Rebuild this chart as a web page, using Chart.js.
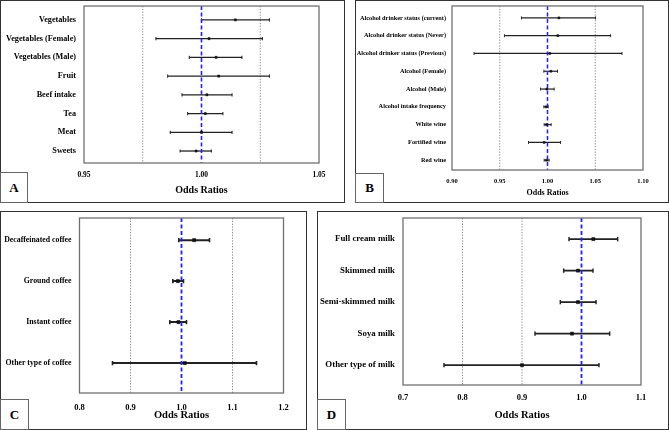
<!DOCTYPE html>
<html>
<head>
<meta charset="utf-8">
<script src="https://cdn.jsdelivr.net/npm/chart.js@4"></script>
<style>
  html, body { margin: 0; padding: 0; background: #fff; }
  body { width: 669px; height: 430px; position: relative; overflow: hidden; }
  .panel { position: absolute; box-sizing: border-box; border: 1px solid #333; background: #fff; }
  .panel canvas { position: absolute; left: 0; top: 0; }
  .tag {
    position: absolute; left: -1px; bottom: -1px; box-sizing: border-box;
    border: 1px solid #666; background: #fff;
    font: bold 13px 'Liberation Serif', 'Times New Roman', serif; color: #000;
    display: flex; align-items: center; justify-content: center;
  }
</style>
</head>
<body>
<div class="panel" style="left:0;top:0;width:345px;height:203px;">
  <canvas id="chartA" width="343" height="201"></canvas>
  <div class="tag" style="width:28px;height:31px;">A</div>
</div>
<div class="panel" style="left:355px;top:0;width:314px;height:203px;">
  <canvas id="chartB" width="312" height="201"></canvas>
  <div class="tag" style="width:29px;height:30px;">B</div>
</div>
<div class="panel" style="left:0;top:211px;width:307px;height:219px;">
  <canvas id="chartC" width="305" height="217"></canvas>
  <div class="tag" style="width:29px;height:31px;">C</div>
</div>
<div class="panel" style="left:317px;top:211px;width:352px;height:219px;">
  <canvas id="chartD" width="350" height="217"></canvas>
  <div class="tag" style="width:29px;height:31px;">D</div>
</div>

<script>
(function () {
    'use strict';

    // A: diet
    var labelsA = ['Vegetables', 'Vegetables (Female)', 'Vegetables (Male)', 'Fruit', 'Beef intake', 'Tea', 'Meat', 'Sweets'];
    var orA = [1.0144, 1.0032, 1.0062, 1.0073, 1.0023, 1.0016, 1.0000, 0.9977];
    var lowA = [1.0000, 0.9806, 0.9948, 0.9856, 0.9917, 0.9941, 0.9867, 0.9909];
    var highA = [1.0289, 1.0259, 1.0172, 1.0289, 1.0130, 1.0091, 1.0130, 1.0042];
    var ticksA = [0.95, 1.00, 1.05];
    var guidesA = [0.975, 1.025];

    // B: alcohol
    var labelsB = ['Alcohol drinker status (current)', 'Alcohol drinker status (Never)', 'Alcohol drinker status (Previous)',
        'Alcohol (Female)', 'Alcohol (Male)', 'Alcohol intake frequency', 'White wine', 'Fortified wine', 'Red wine'];
    var orB = [1.0119, 1.0108, 1.0024, 1.0035, 0.9993, 0.9986, 0.9990, 0.9965, 0.9990];
    var lowB = [0.9727, 0.9549, 0.9231, 0.9962, 0.9927, 0.9962, 0.9965, 0.9801, 0.9965];
    var highB = [1.0503, 1.0661, 1.0780, 1.0105, 1.0070, 1.0007, 1.0038, 1.0136, 1.0017];
    var ticksB = [0.90, 0.95, 1.00, 1.05, 1.10];
    var guidesB = [0.95, 1.05];

    // C: coffee
    var labelsC = ['Decaffeinated coffee', 'Ground coffee', 'Instant coffee', 'Other type of coffee'];
    var orC = [1.0248, 0.9928, 0.9941, 1.0065];
    var lowC = [0.9948, 0.9830, 0.9771, 0.8647];
    var highC = [1.0549, 1.0039, 1.0098, 1.1470];
    var ticksC = [0.8, 0.9, 1.0, 1.1, 1.2];
    var guidesC = [0.9, 1.1];

    // D: milk
    var labelsD = ['Full cream milk', 'Skimmed milk', 'Semi-skimmed milk', 'Soya milk', 'Other type of milk'];
    var orD = [1.0199, 0.9941, 0.9941, 0.9840, 0.9000];
    var lowD = [0.9790, 0.9700, 0.9644, 0.9218, 0.7689];
    var highD = [1.0608, 1.0193, 1.0244, 1.0473, 1.0294];
    var ticksD = [0.7, 0.8, 0.9, 1.0, 1.1];
    var guidesD = [0.8, 0.9];

    var SERIF = "'Liberation Serif', 'Times New Roman', serif";

    // plot box round the chart area
    var framePlugin = {
        id: 'frame',
        afterDatasetsDraw: function (chart) {
            var a = chart.chartArea, ctx = chart.ctx;
            ctx.save();
            ctx.strokeStyle = '#707070';
            ctx.lineWidth = 1.3;
            ctx.strokeRect(a.left, a.top, a.right - a.left, a.bottom - a.top);
            ctx.restore();
        }
    };

    function forestChart(id, labels, or, low, high, xTicks, guides, o) {
        var datasets = [];

        // null line at OR = 1
        datasets.push({
            data: [{ x: 1, y: o.yMin }, { x: 1, y: o.yMax }],
            showLine: true, borderColor: '#2020ff', borderWidth: o.blue, borderDash: [4, 2.5],
            pointRadius: 0, order: 1
        });

        guides.forEach(function (g) {
            datasets.push({
                data: [{ x: g, y: o.yMin }, { x: g, y: o.yMax }],
                showLine: true, borderColor: '#8c8c8c', borderWidth: 1, borderDash: [1.3, 1.5],
                pointRadius: 0, order: 3
            });
        });

        // confidence intervals with end caps
        labels.forEach(function (l, i) {
            datasets.push({
                data: [{ x: low[i], y: i }, { x: high[i], y: i }],
                showLine: true, borderColor: '#222', borderWidth: o.line,
                pointStyle: 'line', pointRotation: 90, pointRadius: o.cap,
                pointBorderWidth: o.line * 0.8, pointBorderColor: '#222', order: 2
            });
        });

        // point estimates
        datasets.push({
            data: or.map(function (v, i) { return { x: v, y: i }; }),
            pointStyle: 'rect', pointRadius: o.dot,
            pointBackgroundColor: '#111', pointBorderColor: '#111', pointBorderWidth: 0.5,
            order: 0
        });

        new Chart(document.getElementById(id).getContext('2d'), {
            type: 'scatter',
            data: { datasets: datasets },
            plugins: [framePlugin],
            options: {
                responsive: false,
                animation: false,
                events: [],
                layout: { padding: { top: o.top, right: o.right, left: 0, bottom: 0 } },
                plugins: { legend: { display: false }, tooltip: { enabled: false } },
                scales: {
                    x: {
                        type: 'linear', min: xTicks[0], max: xTicks[xTicks.length - 1],
                        grid: { display: false, drawTicks: false, tickLength: 0 },
                        border: { display: false },
                        afterBuildTicks: function (s) { s.ticks = xTicks.map(function (v) { return { value: v }; }); },
                        afterFit: function (s) {
                            s.height = o.xHeight;
                            s.paddingLeft = 0;
                            s.paddingRight = 0;
                        },
                        ticks: {
                            autoSkip: false, maxRotation: 0, padding: o.tickPad, color: '#000',
                            font: { family: SERIF, weight: 'bold', size: o.tickSize },
                            callback: function (v) { return Number(v).toFixed(o.dec); }
                        },
                        title: {
                            display: true, text: 'Odds Ratios', color: '#000',
                            font: { family: SERIF, weight: 'bold', size: o.titleSize },
                            padding: { top: 0, bottom: o.titlePad }
                        }
                    },
                    y: {
                        type: 'linear', min: o.yMin, max: o.yMax, reverse: true,
                        grid: { display: false, drawTicks: false, tickLength: 0 },
                        border: { display: false },
                        afterBuildTicks: function (s) { s.ticks = labels.map(function (l, i) { return { value: i }; }); },
                        afterFit: function (s) {
                            s.width = o.yWidth;
                            s.paddingTop = 0;
                            s.paddingBottom = 0;
                        },
                        ticks: {
                            autoSkip: false, padding: o.labelPad, color: '#000',
                            font: { family: SERIF, weight: 'bold', size: o.labelSize },
                            callback: function (v) { return labels[v]; }
                        }
                    }
                }
            }
        });
    }

    forestChart('chartA', labelsA, orA, lowA, highA, ticksA, guidesA, {
        yWidth: 83, right: 25, top: 4, xHeight: 39, yMin: -0.74, yMax: 7.64,
        tickPad: 7.5, tickSize: 7.5, titleSize: 10, titlePad: 6, labelSize: 8.2, labelPad: 8,
        dec: 2, line: 1.3, cap: 1.6, dot: 1.5, blue: 1.6
    });
    forestChart('chartB', labelsB, orB, lowB, highB, ticksB, guidesB, {
        yWidth: 96, right: 25, top: 4, xHeight: 32, yMin: -0.67, yMax: 8.55,
        tickPad: 7, tickSize: 6.5, titleSize: 8, titlePad: 4.5, labelSize: 6.3, labelPad: 6,
        dec: 2, line: 1.2, cap: 1.5, dot: 1.4, blue: 1.5
    });
    forestChart('chartC', labelsC, orC, lowC, highC, ticksC, guidesC, {
        yWidth: 78.5, right: 22.5, top: 6, xHeight: 36, yMin: -0.54, yMax: 3.73,
        tickPad: 9.5, tickSize: 8.5, titleSize: 10.5, titlePad: 7, labelSize: 7.8, labelPad: 8,
        dec: 1, line: 2, cap: 2.2, dot: 2.2, blue: 1.8
    });
    forestChart('chartD', labelsD, orD, lowD, highD, ticksD, guidesD, {
        yWidth: 85, right: 27, top: 6, xHeight: 44, yMin: -0.67, yMax: 4.63,
        tickPad: 7.2, tickSize: 8.5, titleSize: 10.5, titlePad: 7, labelSize: 8.8, labelPad: 8,
        dec: 1, line: 1.8, cap: 2.2, dot: 2.2, blue: 1.8
    });
})();
</script>
</body>
</html>
